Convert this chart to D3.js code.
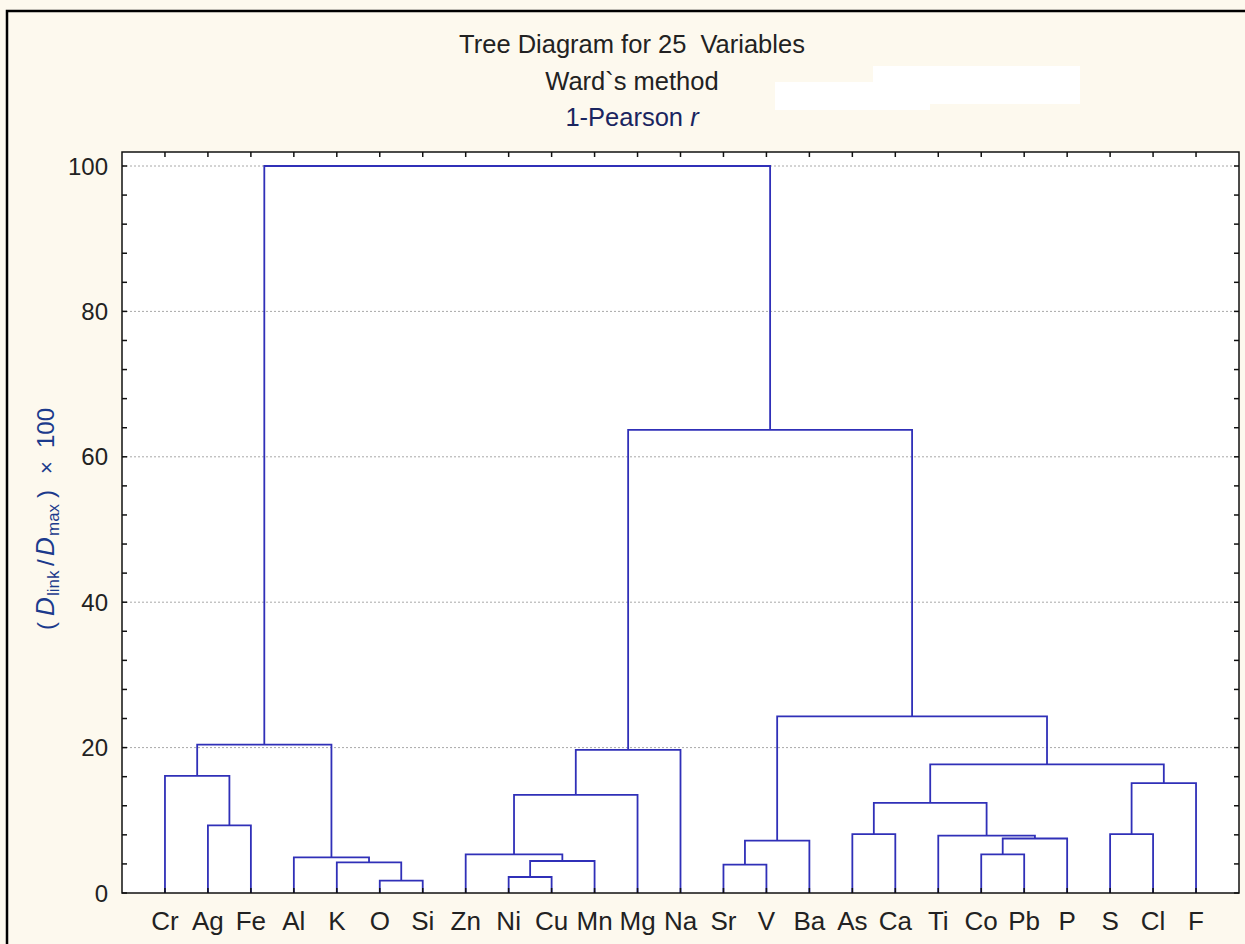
<!DOCTYPE html>
<html>
<head>
<meta charset="utf-8">
<script src="https://cdn.jsdelivr.net/npm/d3@7"></script>
<style>
  body { margin: 0; background: #ffffff; }
  svg { display: block; font-family: "Liberation Sans", Arial, sans-serif; }
</style>
</head>
<body>
<script>
// leaf order along the x axis
const leaves = ["Cr", "Ag", "Fe", "Al", "K", "O", "Si", "Zn", "Ni", "Cu", "Mn", "Mg", "Na",
                "Sr", "V", "Ba", "As", "Ca", "Ti", "Co", "Pb", "P", "S", "Cl", "F"];

// merges: [child a, child b, linkage distance]; merge i becomes node "m" + i
const merges = [
    ["O", "Si", 1.7],      // m0
    ["K", "m0", 4.2],      // m1
    ["Al", "m1", 4.9],     // m2
    ["Ag", "Fe", 9.3],     // m3
    ["Cr", "m3", 16.1],    // m4
    ["m4", "m2", 20.4],    // m5
    ["Ni", "Cu", 2.2],     // m6
    ["m6", "Mn", 4.4],     // m7
    ["Zn", "m7", 5.3],     // m8
    ["m8", "Mg", 13.5],    // m9
    ["m9", "Na", 19.7],    // m10
    ["Sr", "V", 3.9],      // m11
    ["m11", "Ba", 7.2],    // m12
    ["As", "Ca", 8.1],     // m13
    ["Co", "Pb", 5.3],     // m14
    ["m14", "P", 7.5],     // m15
    ["Ti", "m15", 7.9],    // m16
    ["m13", "m16", 12.4],  // m17
    ["S", "Cl", 8.1],      // m18
    ["m18", "F", 15.1],    // m19
    ["m17", "m19", 17.7],  // m20
    ["m12", "m20", 24.3],  // m21
    ["m10", "m21", 63.7],  // m22
    ["m5", "m22", 100]     // m23
];

const yTickLabels = [0, 20, 40, 60, 80, 100];
const yMinorTicks = d3.range(0, 101, 4);
const titleLines = ["Tree Diagram for 25\u00a0 Variables", "Ward`s method"];

const W = 1245, H = 944;
const plot = { left: 122, right: 1239, top: 152, bottom: 893 };
const lineColor = "#3030b8";

const svg = d3.select("body").append("svg")
    .attr("width", W)
    .attr("height", H);

// cream page with black frame
svg.append("rect").attr("width", W).attr("height", H).attr("fill", "#fdf9ee");
svg.append("rect")
    .attr("x", 7).attr("y", 11)
    .attr("width", W + 20).attr("height", H + 20)
    .attr("fill", "none").attr("stroke", "#000").attr("stroke-width", 2.5);

// white patches in the title area
svg.append("rect").attr("x", 873).attr("y", 66).attr("width", 207).attr("height", 38).attr("fill", "#fff");
svg.append("rect").attr("x", 775).attr("y", 82).attr("width", 155).attr("height", 28).attr("fill", "#fff");

// titles
const cx = 632;
svg.append("text").attr("x", cx).attr("y", 53).attr("text-anchor", "middle")
    .attr("font-size", 25.5).attr("fill", "#222").text(titleLines[0]);
svg.append("text").attr("x", cx).attr("y", 90).attr("text-anchor", "middle")
    .attr("font-size", 25.5).attr("fill", "#222").text(titleLines[1]);
const t3 = svg.append("text").attr("x", cx).attr("y", 126).attr("text-anchor", "middle")
    .attr("font-size", 25.5).attr("fill", "#1a2560");
t3.append("tspan").text("1-Pearson ");
t3.append("tspan").attr("font-style", "italic").text("r");

// scales
const x = d3.scalePoint().domain(leaves).range([plot.left, plot.right]).padding(1);
const y = d3.scaleLinear().domain([0, 100]).range([plot.bottom, 166]);

// plot background
svg.append("rect")
    .attr("x", plot.left).attr("y", plot.top)
    .attr("width", plot.right - plot.left).attr("height", plot.bottom - plot.top)
    .attr("fill", "#fff");

// dotted gridlines
svg.append("g").selectAll("line")
    .data(yTickLabels.filter(d => d > 0))
    .enter().append("line")
    .attr("x1", plot.left).attr("x2", plot.right)
    .attr("y1", d => y(d)).attr("y2", d => y(d))
    .attr("stroke", "#a8a8a8").attr("stroke-width", 1)
    .attr("stroke-dasharray", "2,2");

// build the tree
const nodes = {};
leaves.forEach(name => { nodes[name] = { name: name, height: 0 }; });
merges.forEach((m, i) => {
    nodes["m" + i] = { name: "m" + i, height: m[2], children: [nodes[m[0]], nodes[m[1]]] };
});
const root = d3.hierarchy(nodes["m" + (merges.length - 1)]);
root.eachAfter(d => {
    d.px = d.children ? d3.mean(d.children, c => c.px) : x(d.data.name);
});

// dendrogram links
svg.append("g").selectAll("path")
    .data(root.descendants().filter(d => d.children))
    .enter().append("path")
    .attr("d", d => {
        const [a, b] = d.children;
        return `M${a.px},${y(a.data.height)}V${y(d.data.height)}H${b.px}V${y(b.data.height)}`;
    })
    .attr("fill", "none")
    .attr("stroke", lineColor)
    .attr("stroke-width", 1.8);

// axes frame
const axisG = svg.append("g").attr("stroke", "#111").attr("stroke-width", 1.5);
axisG.append("rect")
    .attr("x", plot.left).attr("y", plot.top)
    .attr("width", plot.right - plot.left).attr("height", plot.bottom - plot.top)
    .attr("fill", "none");

// left and right minor ticks, pointing inward
axisG.selectAll(".lt").data(yMinorTicks).enter().append("line")
    .attr("x1", plot.left).attr("x2", plot.left + 5)
    .attr("y1", d => y(d)).attr("y2", d => y(d));
axisG.selectAll(".rt").data(yMinorTicks).enter().append("line")
    .attr("x1", plot.right).attr("x2", plot.right - 5)
    .attr("y1", d => y(d)).attr("y2", d => y(d));

// top and bottom ticks at every leaf
axisG.selectAll(".tt").data(leaves).enter().append("line")
    .attr("x1", d => x(d)).attr("x2", d => x(d))
    .attr("y1", plot.top).attr("y2", plot.top + 5);
axisG.selectAll(".bt").data(leaves).enter().append("line")
    .attr("x1", d => x(d)).attr("x2", d => x(d))
    .attr("y1", plot.bottom).attr("y2", plot.bottom - 5);

// y tick labels
svg.append("g").selectAll("text")
    .data(yTickLabels)
    .enter().append("text")
    .attr("x", 108)
    .attr("y", d => y(d))
    .attr("dy", "0.36em")
    .attr("text-anchor", "end")
    .attr("font-size", 24)
    .attr("fill", "#222")
    .text(d => d);

// leaf labels
svg.append("g").selectAll("text")
    .data(leaves)
    .enter().append("text")
    .attr("x", d => x(d))
    .attr("y", 930)
    .attr("text-anchor", "middle")
    .attr("font-size", 26)
    .attr("fill", "#222")
    .text(d => d);

// y axis title, pieces placed along the rotated baseline
const yl = svg.append("text")
    .attr("transform", "translate(54,630) rotate(-90)")
    .attr("fill", "#1b3a8c");
yl.append("tspan").attr("x", 0).attr("font-size", 24).text("(");
yl.append("tspan").attr("x", 14).attr("font-size", 26).attr("font-style", "italic").text("D");
yl.append("tspan").attr("x", 34).attr("dy", 5).attr("font-size", 17).text("link");
yl.append("tspan").attr("x", 64).attr("dy", -5).attr("font-size", 24).text("/");
yl.append("tspan").attr("x", 74).attr("font-size", 26).attr("font-style", "italic").text("D");
yl.append("tspan").attr("x", 94).attr("dy", 5).attr("font-size", 17).text("max");
yl.append("tspan").attr("x", 132).attr("dy", -5).attr("font-size", 24).text(")");
yl.append("tspan").attr("x", 156).attr("font-size", 22).text("\u00d7");
yl.append("tspan").attr("x", 182).attr("font-size", 24).text("100");
</script>
</body>
</html>
